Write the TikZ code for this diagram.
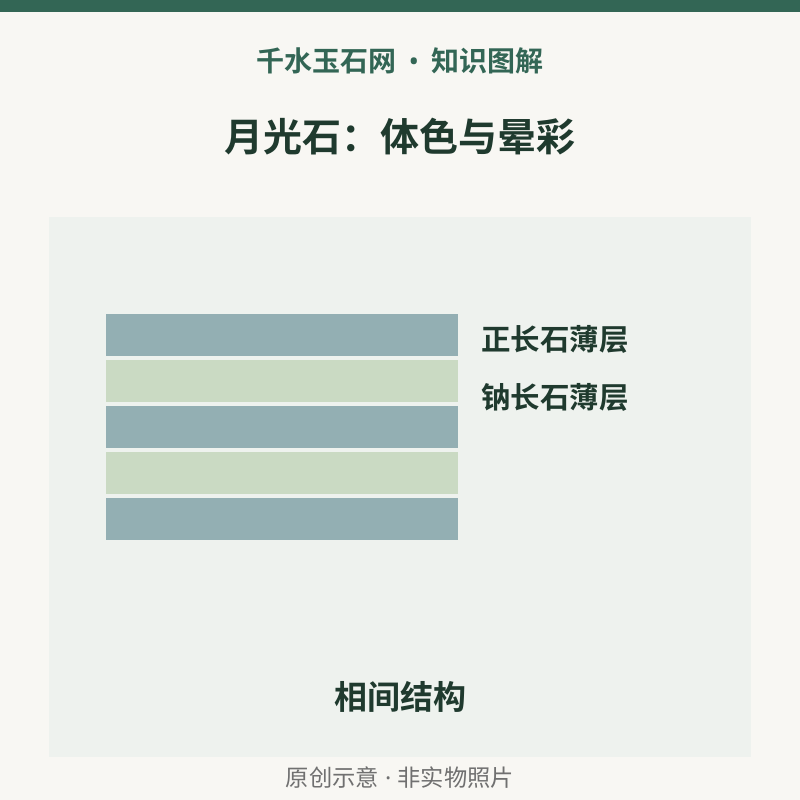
\documentclass[tikz,border=0pt]{standalone}
\usepackage{fontspec}
\newfontfamily\cjk{Noto Sans CJK SC}
\newfontfamily\cjkb{Noto Sans CJK SC Bold}
\newfontfamily\latn{Noto Sans}
\definecolor{bg}{HTML}{F8F7F3}
\definecolor{panel}{HTML}{EEF2EE}
\definecolor{topbar}{HTML}{336655}
\definecolor{dark}{HTML}{1F3A2E}
\definecolor{orth}{HTML}{93AFB3}
\definecolor{albi}{HTML}{CADAC3}
\definecolor{foot}{HTML}{707070}
\tikzset{
  layerA/.style={fill=orth, draw=none},
  layerB/.style={fill=albi, draw=none},
  lbl/.style={anchor=west, inner sep=0pt, text=dark, font=\cjkb\fontsize{29.5}{32}\selectfont},
}
\begin{document}
\begin{tikzpicture}[x=1pt,y=-1pt]
\fill[bg] (0,0) rectangle (800,800);
\useasboundingbox (0,0) rectangle (800,800);
\fill[topbar] (0,0) rectangle (800,12);
\fill[panel] (49,217) rectangle (751,757);
\node[inner sep=0pt, text=topbar, font=\cjkb\fontsize{28}{32}\selectfont] (brand) at (400,61) {千水玉石网{\latn\bfseries\ \,•\,\ }知识图解};
\node[inner sep=0pt, text=dark, font=\cjkb\fontsize{39}{42}\selectfont] (title) at (400,137) {月光石：体色与晕彩};
\fill[layerA] (106,314) rectangle (458,356);
\fill[layerB] (106,360) rectangle (458,402);
\fill[layerA] (106,406) rectangle (458,448);
\fill[layerB] (106,452) rectangle (458,494);
\fill[layerA] (106,498) rectangle (458,540);
\node[lbl] (l1) at (481,339) {正长石薄层};
\node[lbl] (l2) at (481,397) {钠长石薄层};
\node[inner sep=0pt, text=dark, font=\cjkb\fontsize{33}{36}\selectfont] (cap) at (400,697) {相间结构};
\node[inner sep=0pt, text=foot, font=\cjk\fontsize{23.3}{27}\selectfont] (ft) at (400,778) {原创示意{\latn\ ·\ }非实物照片};
\end{tikzpicture}
\end{document}
